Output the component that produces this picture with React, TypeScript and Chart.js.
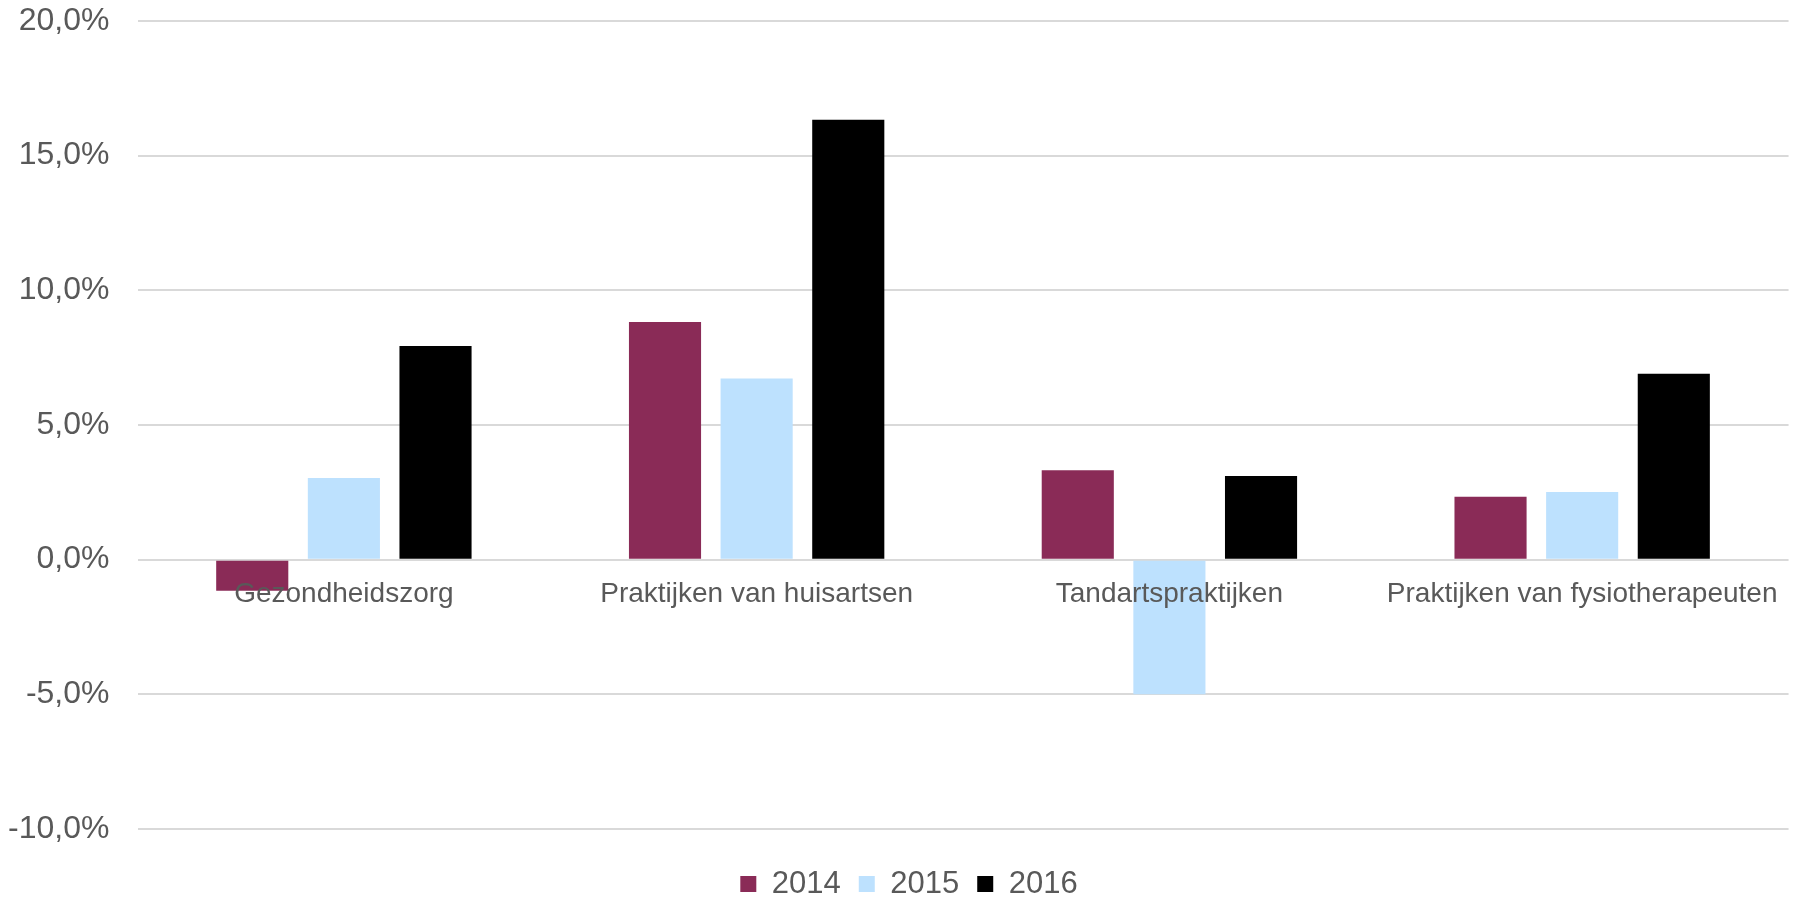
import React, { useEffect, useRef } from "react";
import { Chart, registerables } from "chart.js";

Chart.register(...registerables);

const categories = [
  "Gezondheidszorg",
  "Praktijken van huisartsen",
  "Tandartspraktijken",
  "Praktijken van fysiotherapeuten",
];
const seriesLabels = ["2014", "2015", "2016"];
const values2014 = [-1.15, 8.82, 3.32, 2.34];
const values2015 = [3.03, 6.73, -5.0, 2.51];
const values2016 = [7.93, 16.33, 3.11, 6.9];
const colors = ["#8A2B57", "#BDE1FE", "#000000"];
const yTicks = { min: -10, max: 20, step: 5 };

const FONT = "'Liberation Sans', Arial, sans-serif";
const TEXT = "#595959";

const legendShift = {
  id: "legendShift",
  afterLayout(chart: any) {
    const l = chart.legend;
    if (l) {
      l.left += 13;
      l.right += 13;
    }
  },
};

export default function App() {
  const ref = useRef<HTMLCanvasElement | null>(null);

  useEffect(() => {
    if (!ref.current) return;
    const data = [values2014, values2015, values2016];
    const chart = new Chart(ref.current, {
      type: "bar",
      data: {
        labels: categories,
        datasets: seriesLabels.map((l, i) => ({
          label: l,
          data: data[i],
          backgroundColor: colors[i],
          borderWidth: 0,
          categoryPercentage: 0.666,
          barPercentage: 0.787,
        })),
      },
      plugins: [legendShift],
      options: {
        animation: false,
        responsive: true,
        maintainAspectRatio: false,
        layout: { padding: { left: 0, right: 4, top: 21, bottom: -10.5 } },
        plugins: {
          tooltip: { enabled: false },
          legend: {
            position: "bottom",
            title: { display: true, text: "", font: { size: 1 }, padding: { top: 0, bottom: 20.3 } },
            labels: {
              boxWidth: 16,
              boxHeight: 16,
              padding: 18,
              color: TEXT,
              font: { family: FONT, size: 31 },
            },
          },
        },
        scales: {
          x: {
            position: { y: 0 } as any,
            grid: { display: false, drawTicks: false },
            border: { display: false },
            ticks: {
              z: 1,
              color: TEXT,
              font: { family: FONT, size: 28 },
              padding: 18,
              maxRotation: 0,
              autoSkip: false,
            },
          },
          y: {
            min: yTicks.min,
            max: yTicks.max,
            grid: { color: "#d9d9d9", lineWidth: 2, drawTicks: false },
            border: { display: false },
            afterFit: (s: any) => {
              s.width = 137.5;
              s.paddingTop = 0;
              s.paddingBottom = 0;
            },
            ticks: {
              stepSize: yTicks.step,
              color: TEXT,
              padding: 28,
              font: { family: FONT, size: 32 },
              callback: (v: any) => Number(v).toFixed(1).replace(".", ",") + "%",
            },
          },
        },
      },
    });
    return () => chart.destroy();
  }, []);

  return (
    <div style={{ position: "fixed", left: 0, top: 0, width: 1796, height: 899, background: "#fff" }}>
      <canvas ref={ref} />
    </div>
  );
}
